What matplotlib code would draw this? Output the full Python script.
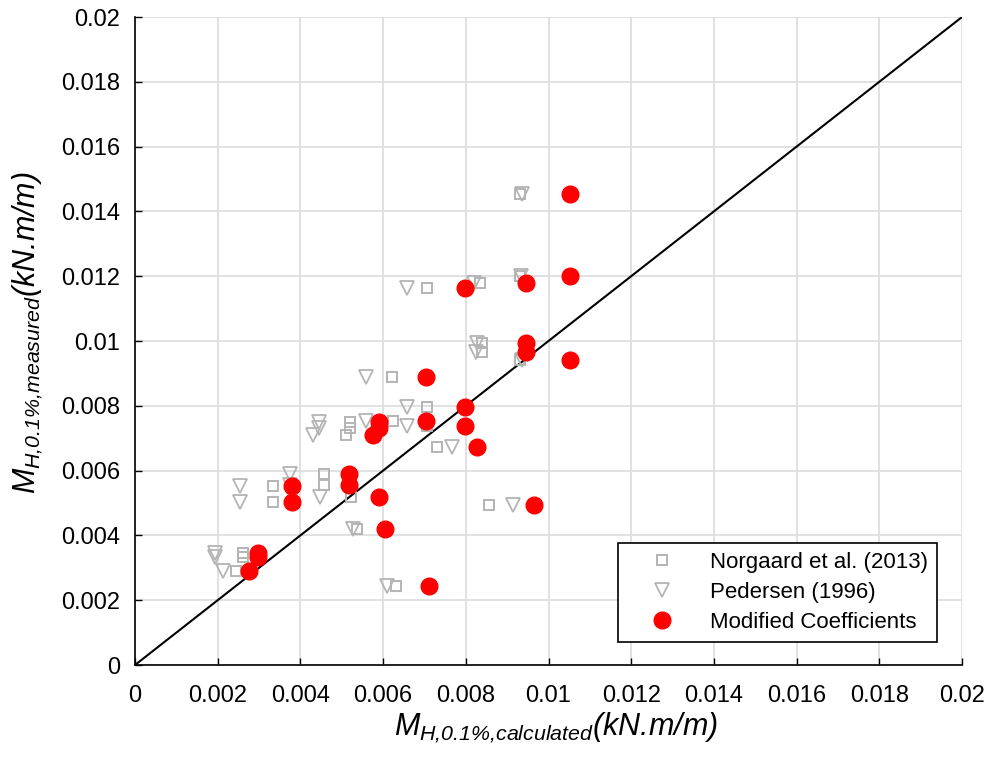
import matplotlib
matplotlib.use("Agg")
import matplotlib.pyplot as plt
import numpy as np

plt.rcParams['font.family'] = ['Liberation Sans', 'DejaVu Sans']
plt.rcParams['mathtext.fontset'] = 'custom'
plt.rcParams['mathtext.it'] = 'Liberation Sans:italic'
plt.rcParams['mathtext.rm'] = 'Liberation Sans:italic'
plt.rcParams['mathtext.default'] = 'it'

# measured values (shared by all three series)
measured = [0.01454, 0.0120, 0.01178, 0.01165, 0.00993, 0.00967, 0.00941, 0.0089,
            0.00797, 0.00754, 0.00738, 0.00751, 0.00733, 0.0071, 0.00672, 0.0059,
            0.00556, 0.0052, 0.00553, 0.00502, 0.0042, 0.00347, 0.00334, 0.00291,
            0.00494, 0.00244]
norgaard = [0.00931, 0.00931, 0.00834, 0.00705, 0.00838, 0.00838, 0.0093, 0.00622,
            0.00705, 0.00623, 0.00705, 0.0052, 0.0052, 0.0051, 0.00731, 0.00458,
            0.00458, 0.00522, 0.00334, 0.00334, 0.00536, 0.00262, 0.00262, 0.00244,
            0.00855, 0.00631]
pedersen = [0.00937, 0.00933, 0.0082, 0.00657, 0.00826, 0.00825, 0.00935, 0.00559,
            0.00657, 0.00559, 0.00657, 0.00446, 0.00446, 0.00431, 0.00766, 0.00375,
            0.00375, 0.00447, 0.00254, 0.00254, 0.00526, 0.00193, 0.00193, 0.00214,
            0.00913, 0.00609]
modified = [0.01052, 0.01052, 0.00946, 0.00798, 0.00946, 0.00946, 0.01052, 0.00704,
            0.00797, 0.00703, 0.00797, 0.0059, 0.0059, 0.00576, 0.00826, 0.00518,
            0.00518, 0.0059, 0.00379, 0.00379, 0.00605, 0.00298, 0.00298, 0.00276,
            0.00965, 0.00712]
ticks = [0, 0.002, 0.004, 0.006, 0.008, 0.01, 0.012, 0.014, 0.016, 0.018, 0.02]
tick_labels = ['0', '0.002', '0.004', '0.006', '0.008', '0.01', '0.012', '0.014',
               '0.016', '0.018', '0.02']

fig = plt.figure(figsize=(9.92, 7.6), dpi=100)
ax = fig.add_axes([135/992, 95/760, 827/992, 648/760])

grey = '#b4b4b4'
ax.plot(norgaard, measured, linestyle='none', marker='s', markersize=6.5,
        markerfacecolor='none', markeredgecolor=grey, markeredgewidth=1.4,
        label='Norgaard et al. (2013)')
ax.plot(pedersen, measured, linestyle='none', marker='v', markersize=10,
        markerfacecolor='none', markeredgecolor=grey, markeredgewidth=1.3,
        label='Pedersen (1996)')
ax.plot(modified, measured, linestyle='none', marker='o', markersize=12,
        markerfacecolor='#ff0000', markeredgecolor='#ff0000',
        label='Modified Coefficients')
ax.plot([0, 0.02], [0, 0.02], color='black', linewidth=1.5, zorder=1)

ax.set_xlim(0, 0.02)
ax.set_ylim(0, 0.02)
ax.set_xticks(ticks)
ax.set_yticks(ticks)
ax.set_xticklabels(tick_labels, fontsize=17)
ax.set_yticklabels(tick_labels, fontsize=17)
ax.tick_params(direction='in', length=5, width=1, colors='black')
ax.tick_params(axis='x', pad=14.5)
ax.tick_params(axis='y', pad=10.5)
ax.grid(True, color='#dedede', linewidth=1.3)
ax.set_axisbelow(True)
for s in ['top', 'right']:
    ax.spines[s].set_visible(False)
for s in ['left', 'bottom']:
    ax.spines[s].set_linewidth(1.2)

ax.set_xlabel(r'$M_{\text{H,0.1%,calculated}}\text{(kN.m/m)}$', fontsize=22, va='top')
ax.xaxis.set_label_coords((556-135)/827, -46/648)
ax.set_ylabel(r'$M_{\text{H,0.1%,measured}}\text{(kN.m/m)}$', fontsize=22, va='bottom')
ax.yaxis.set_label_coords((45-135)/827, (665-333)/648)

leg = ax.legend(loc='upper left', bbox_to_anchor=((618-135)/827, (665-543)/648),
                fontsize=16, frameon=True, fancybox=False, edgecolor='black',
                framealpha=1, handletextpad=0.55, borderpad=0.4, labelspacing=0.4,
                handlelength=3.2, borderaxespad=0)
leg.get_frame().set_linewidth(1.2)

fig.savefig('out.png', dpi=100)
